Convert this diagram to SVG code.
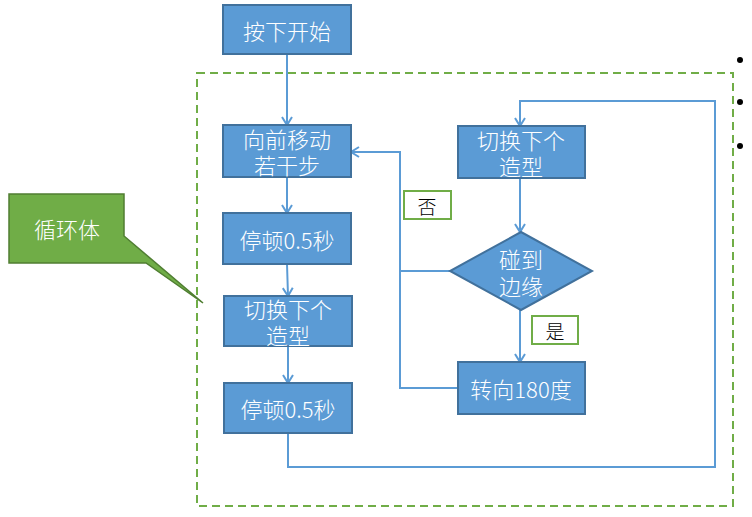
<svg xmlns="http://www.w3.org/2000/svg" width="752" height="517" viewBox="0 0 752 517">
<defs>
<style>
.box{fill:#5b9bd5;stroke:#41719c;stroke-width:2}
.t{font-family:"Noto Sans CJK SC","Liberation Sans",sans-serif;font-size:22px;font-weight:300;fill:#fff;text-anchor:middle;dominant-baseline:central}
.lab{fill:#fff;stroke:#70ad47;stroke-width:2}
.lt{font-family:"Noto Sans CJK SC","Liberation Sans",sans-serif;font-size:19px;font-weight:300;fill:#000;text-anchor:middle;dominant-baseline:central}
.c{fill:none;stroke:#5b9bd5;stroke-width:2}
</style>
<marker id="a" markerWidth="12" markerHeight="12" refX="10" refY="6" orient="auto" markerUnits="userSpaceOnUse">
<polyline points="2,1 10,6 2,11" fill="none" stroke="#5b9bd5" stroke-width="2"/>
</marker>
</defs>
<rect width="752" height="517" fill="#fff"/>
<g id="loop-frame">
<rect x="197" y="73" width="536" height="433" fill="none" stroke="#70ad47" stroke-width="2" stroke-dasharray="8,5"/>
</g>
<g id="connectors">
<line class="c" x1="287" y1="54" x2="287" y2="125" marker-end="url(#a)"/>
<line class="c" x1="287" y1="177" x2="287" y2="213" marker-end="url(#a)"/>
<line class="c" x1="287" y1="264" x2="288" y2="296" marker-end="url(#a)"/>
<line class="c" x1="288" y1="346" x2="288" y2="383" marker-end="url(#a)"/>
<polyline class="c" points="288,433 288,467 715,467 715,101 520,101 520,126" marker-end="url(#a)"/>
<line class="c" x1="520" y1="178" x2="520" y2="232" marker-end="url(#a)"/>
<line class="c" x1="520" y1="310" x2="520" y2="362" marker-end="url(#a)"/>
<polyline class="c" points="450,271 400,271 400,152 351,152" marker-end="url(#a)"/>
<polyline class="c" points="458,388 400,388 400,271"/>
</g>
<g id="start"><rect class="box" x="223" y="5" width="128" height="49"/><text class="t" x="287" y="30">按下开始</text></g>
<g id="move"><rect class="box" x="223" y="125" width="128" height="52"/><text class="t" x="287" y="138">向前移动</text><text class="t" x="287" y="164">若干步</text></g>
<g id="wait1"><rect class="box" x="223" y="213" width="128" height="51"/><text class="t" x="287" y="239">停顿0.5秒</text></g>
<g id="switch1"><rect class="box" x="224" y="296" width="128" height="50"/><text class="t" x="288" y="308">切换下个</text><text class="t" x="288" y="334">造型</text></g>
<g id="wait2"><rect class="box" x="224" y="383" width="128" height="50"/><text class="t" x="288" y="408">停顿0.5秒</text></g>
<g id="switch2"><rect class="box" x="458" y="126" width="127" height="52"/><text class="t" x="521" y="139">切换下个</text><text class="t" x="521" y="165">造型</text></g>
<g id="edge"><polygon class="box" points="521,232 592,271 521,310 450,271"/><text class="t" x="521" y="258">碰到</text><text class="t" x="521" y="285">边缘</text></g>
<g id="turn"><rect class="box" x="458" y="362" width="127" height="52"/><text class="t" x="521" y="388">转向180度</text></g>
<g id="no"><rect class="lab" x="404" y="191" width="47" height="28"/><text class="lt" x="427" y="205">否</text></g>
<g id="yes"><rect class="lab" x="532" y="316" width="46" height="28"/><text class="lt" x="555" y="330">是</text></g>
<g id="callout"><polygon points="9,194 124,194 124,236 203,303 146,263 9,263" fill="#70ad47" stroke="#507e32" stroke-width="1.5"/><text class="t" x="67" y="228">循环体</text></g>
<g id="bullets" fill="#000"><circle cx="740" cy="60" r="3"/><circle cx="740" cy="102" r="3"/><circle cx="740" cy="146" r="3"/></g>
</svg>
